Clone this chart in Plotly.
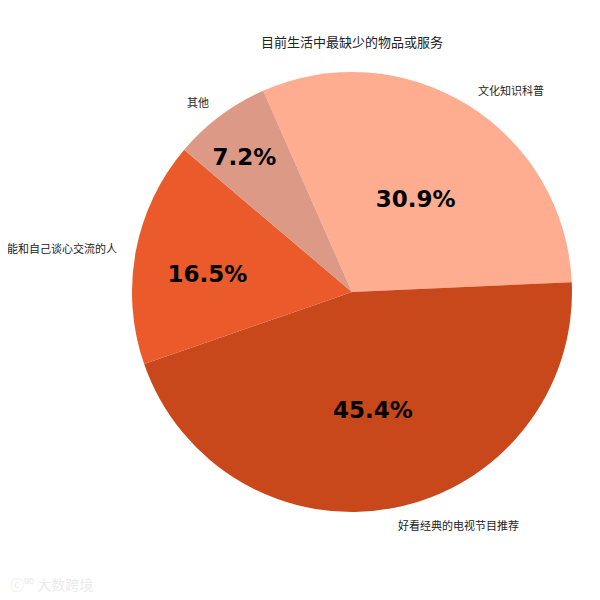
import math

import plotly.graph_objects as go

labels = ["文化知识科普", "好看经典的电视节目推荐", "能和自己谈心交流的人", "其他"]
values = [30.9, 45.4, 16.5, 7.2]
colors = ["#FFAD91", "#C8471B", "#EA5A2B", "#DC9A86"]
title = "目前生活中最缺少的物品或服务"

W, H = 600, 600
# page body adds an 8px offset, so positions are given relative to the figure
cx, cy, r = 344, 284, 220
rotation = -23.8

fig = go.Figure()
fig.add_trace(
    go.Pie(
        labels=labels,
        values=values,
        sort=False,
        direction="clockwise",
        rotation=rotation,
        marker={"colors": colors, "line": {"width": 0}},
        # blank first line nudges the percentage a bit below the slice centre
        texttemplate="<span style='font-size:10px'>&nbsp;</span><br>%{value:.1f}%",
        textposition="inside",
        insidetextorientation="horizontal",
        textfont={"family": "DejaVu Sans", "size": 23, "color": "#000000", "weight": "bold"},
        hoverinfo="label+percent",
        showlegend=False,
        domain={"x": [(cx - r) / W, (cx + r) / W], "y": [1 - (cy + r) / H, 1 - (cy - r) / H]},
    )
)

# category names sit just outside the rim, on the middle angle of each slice
total = sum(values)
start = rotation
for lab, v in zip(labels, values):
    mid = math.radians(start + v / total * 360 / 2)
    start += v / total * 360
    px = cx + 1.08 * r * math.sin(mid)
    py = cy - 1.08 * r * math.cos(mid)
    fig.add_annotation(
        x=px / W,
        y=1 - py / H,
        xref="paper",
        yref="paper",
        text=lab,
        showarrow=False,
        xanchor="left" if px >= cx else "right",
        yanchor="middle",
        borderpad=0,
        font={"family": "Noto Sans CJK SC", "size": 11, "color": "#222222"},
    )

fig.add_annotation(
    x=cx / W,
    y=1 - 34 / H,
    xref="paper",
    yref="paper",
    text=title,
    showarrow=False,
    xanchor="center",
    yanchor="middle",
    font={"family": "Noto Sans CJK SC", "size": 13, "color": "#222222"},
)
fig.add_annotation(
    x=0,
    y=1 - 576 / H,
    xref="paper",
    yref="paper",
    text="ⓒ⁰⁰ 大数跨境",
    showarrow=False,
    xanchor="left",
    yanchor="middle",
    font={"family": "Noto Sans CJK SC", "size": 14, "color": "#EBEBEB"},
)

fig.update_layout(
    width=W,
    height=H,
    autosize=False,
    margin=dict(l=0, r=0, t=0, b=0),
    paper_bgcolor="#FFFFFF",
    plot_bgcolor="#FFFFFF",
)
fig.write_html("out.html")
